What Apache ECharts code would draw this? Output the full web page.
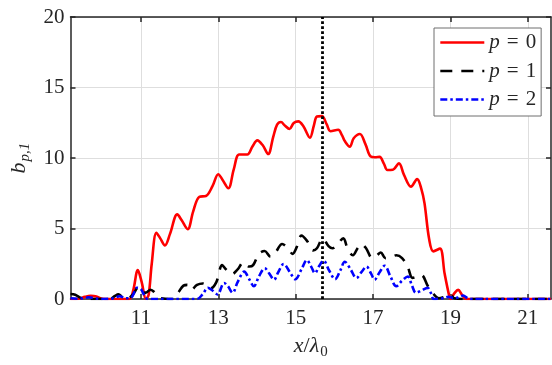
<!DOCTYPE html>
<html>
<head>
<meta charset="utf-8">
<style>
  html, body { margin: 0; padding: 0; background: #fff; }
  #chart { width: 552px; height: 365px; }
</style>
<script src="https://cdn.jsdelivr.net/npm/echarts@6/dist/echarts.min.js"></script>
</head>
<body>
<div id="chart"></div>
<script>
// x positions, one list per curve
const xRange = [9.18, 21.6]
const xTicks = [11, 13, 15, 17, 19, 21]
const markerX = 15.7

const p0X = [9.18, 9.4, 9.55, 9.7, 9.85, 10.0, 10.2, 10.7, 10.8, 10.92, 11.02, 11.13, 11.2, 11.28, 11.4, 11.5, 11.62, 11.75, 11.94, 12.05, 12.21, 12.35, 12.51, 12.68, 12.85, 13.0, 13.1, 13.26, 13.4, 13.54, 13.75, 13.88, 14.01, 14.15, 14.29, 14.42, 14.52, 14.62, 14.72, 14.84, 14.95, 15.07, 15.2, 15.37, 15.47, 15.55, 15.68, 15.8, 15.9, 16.1, 16.2, 16.27, 16.4, 16.5, 16.66, 16.8, 16.94, 17.05, 17.17, 17.28, 17.37, 17.51, 17.67, 17.8, 17.98, 18.14, 18.25, 18.33, 18.45, 18.56, 18.73, 18.85, 18.96, 19.0, 19.1, 19.2, 19.3, 19.4, 21.6]
const p0Y = [0, 0.02, 0.15, 0.22, 0.18, 0.02, 0, 0, 0.6, 2.05, 1.2, 0, 0.3, 2.5, 4.7, 4.3, 3.8, 4.6, 6.0, 5.6, 4.95, 6.2, 7.25, 7.3, 8.0, 8.85, 8.5, 7.85, 9.2, 10.25, 10.25, 10.8, 11.25, 10.9, 10.28, 11.5, 12.36, 12.55, 12.3, 12.06, 12.48, 12.6, 12.25, 11.44, 12.3, 12.94, 12.97, 12.4, 11.9, 12.0, 11.6, 11.2, 10.8, 11.4, 11.7, 11.0, 10.1, 10.05, 10.08, 9.6, 9.15, 9.17, 9.62, 8.8, 7.97, 8.5, 7.8, 6.8, 4.26, 3.38, 3.57, 1.8, 0.33, 0, 0.4, 0.65, 0.3, 0, 0]

const p1X = [9.18, 9.3, 9.45, 9.6, 10.2, 10.32, 10.42, 10.52, 10.65, 10.8, 10.93, 11.05, 11.12, 11.25, 11.38, 11.52, 11.8, 11.95, 12.1, 12.2, 12.3, 12.45, 12.6, 12.8, 12.95, 13.1, 13.2, 13.35, 13.5, 13.65, 13.8, 13.9, 14.05, 14.2, 14.35, 14.48, 14.65, 14.8, 14.92, 15.03, 15.15, 15.3, 15.45, 15.55, 15.7, 15.85, 15.95, 16.08, 16.23, 16.35, 16.48, 16.6, 16.7, 16.82, 16.98, 17.1, 17.2, 17.32, 17.45, 17.6, 17.75, 17.9, 18.02, 18.15, 18.25, 18.42, 18.55, 18.7, 18.85, 19.0, 19.1, 19.3, 21.6]
const p1Y = [0.35, 0.3, 0.08, 0, 0, 0.2, 0.33, 0.15, 0.02, 0.35, 0.82, 0.5, 0.45, 0.66, 0.4, 0.05, 0, 0.4, 0.95, 1.0, 0.65, 1.0, 1.1, 0.75, 1.2, 2.4, 2.1, 1.75, 2.1, 2.6, 2.3, 2.4, 3.2, 3.4, 3.0, 3.3, 3.9, 3.6, 3.2, 3.7, 4.5, 4.1, 3.45, 3.6, 4.3, 3.75, 3.6, 3.9, 4.3, 3.5, 3.1, 3.6, 3.9, 3.6, 2.9, 3.1, 3.3, 2.9, 2.95, 3.1, 2.9, 2.25, 1.5, 1.6, 1.7, 0.9, 0.4, 0.05, 0.15, 0.3, 0.05, 0, 0]

const p2X = [9.18, 9.35, 9.5, 9.65, 9.8, 10.0, 10.3, 10.45, 10.6, 10.75, 10.9, 11.0, 11.1, 11.18, 12.45, 12.6, 12.73, 12.85, 12.98, 13.15, 13.25, 13.37, 13.5, 13.67, 13.8, 13.92, 14.05, 14.2, 14.32, 14.44, 14.55, 14.69, 14.85, 14.99, 15.15, 15.29, 15.4, 15.5, 15.6, 15.72, 15.87, 16.02, 16.15, 16.27, 16.42, 16.57, 16.7, 16.83, 16.95, 17.04, 17.17, 17.3, 17.45, 17.6, 17.75, 17.9, 18.0, 18.11, 18.25, 18.41, 18.5, 18.57, 18.8, 18.95, 19.1, 19.2, 19.33, 19.45, 19.55, 21.6]
const p2Y = [0.05, 0.02, 0.05, 0.12, 0.05, 0, 0.05, 0.2, 0.05, 0.1, 0.8, 0.7, 0.2, 0, 0, 0.35, 0.8, 0.6, 0.33, 1.14, 0.9, 0.44, 1.2, 1.94, 1.4, 0.9, 1.6, 2.18, 1.8, 1.37, 1.9, 2.48, 1.9, 1.4, 2.1, 2.76, 2.3, 1.83, 2.3, 2.72, 2.0, 1.4, 2.0, 2.64, 2.1, 1.49, 1.9, 2.3, 1.8, 1.37, 1.9, 2.36, 1.6, 0.9, 1.3, 1.6, 1.0, 0.44, 0.6, 0.79, 0.4, 0, 0.05, 0.15, 0.05, 0.1, 0.25, 0.05, 0, 0]

const axisColor = '#262626'
const serif = 'Liberation Serif'

function pairs(xs, ys) {
  return xs.map((x, i) => [x, ys[i]])
}

const chart = echarts.init(document.getElementById('chart'))

const tickStyle = { inside: true, length: 5, lineStyle: { color: axisColor, width: 1.5 } }

let option = {
  animation: false,
  grid: { left: 67, right: 1, top: 17, bottom: 60 },
  legend: {
    orient: 'vertical',
    left: 434,
    top: 28,
    padding: [4, 5, 6, 5],
    itemGap: 7.5,
    itemWidth: 44,
    itemHeight: 20,
    backgroundColor: '#fff',
    borderColor: '#6e6e6e',
    borderWidth: 1,
    borderRadius: 0,
    // only the line sample, no marker dot
    itemStyle: { opacity: 0 },
    lineStyle: { width: 2.6 },
    data: ['p = 0', 'p = 1', 'p = 2'],
    formatter: function (name) {
      return '{i|p}{e|=}{n|' + name.split('=')[1].trim() + '}'
    },
    textStyle: {
      fontFamily: serif,
      fontSize: 21,
      color: axisColor,
      rich: {
        i: { fontFamily: serif, fontStyle: 'italic', fontSize: 21, color: axisColor },
        e: { fontFamily: serif, fontSize: 21, color: axisColor, padding: [0, 7, 0, 7] },
        n: { fontFamily: serif, fontSize: 21, color: axisColor }
      }
    }
  },
  xAxis: [{
    type: 'value',
    min: xRange[0],
    max: xRange[1],
    name: '{i|x}{n|/}{i|λ}{s|0}',
    nameLocation: 'middle',
    nameGap: 34,
    nameTextStyle: {
      rich: {
        i: { fontFamily: serif, fontStyle: 'italic', fontSize: 22, color: axisColor },
        n: { fontFamily: serif, fontSize: 22, color: axisColor },
        s: { fontFamily: serif, fontSize: 15, color: axisColor, padding: [12, 0, 0, 1] }
      }
    },
    axisLine: { onZero: false, lineStyle: { color: axisColor, width: 1.5 } },
    axisTick: Object.assign({ customValues: xTicks }, tickStyle),
    axisLabel: {
      customValues: xTicks,
      fontFamily: serif,
      fontSize: 21,
      color: axisColor,
      margin: 9
    },
    splitLine: { show: true, lineStyle: { color: '#dedede', width: 1 } }
  }, {
    type: 'value',
    position: 'top',
    min: xRange[0],
    max: xRange[1],
    axisLine: { onZero: false, lineStyle: { color: axisColor, width: 1.5 } },
    axisTick: Object.assign({ customValues: xTicks }, tickStyle),
    axisLabel: { show: false },
    splitLine: { show: false }
  }],
  yAxis: [{
    type: 'value',
    min: 0,
    max: 20,
    interval: 5,
    name: '{b|b}{s|p,1}',
    nameLocation: 'middle',
    nameGap: 38,
    nameRotate: 90,
    nameTextStyle: {
      rich: {
        b: { fontFamily: serif, fontStyle: 'italic', fontSize: 22, color: axisColor },
        s: { fontFamily: serif, fontStyle: 'italic', fontSize: 15, color: axisColor, padding: [12, 0, 0, 1] }
      }
    },
    axisLine: { show: true, lineStyle: { color: axisColor, width: 1.5 } },
    axisTick: tickStyle,
    axisLabel: { fontFamily: serif, fontSize: 21, color: axisColor, margin: 6 },
    splitLine: { show: true, lineStyle: { color: '#dedede', width: 1 } }
  }, {
    type: 'value',
    position: 'right',
    min: 0,
    max: 20,
    interval: 5,
    axisLine: { show: true, lineStyle: { color: axisColor, width: 1.5 } },
    axisTick: tickStyle,
    axisLabel: { show: false },
    splitLine: { show: false }
  }],
  series: [
    {
      name: 'p = 0',
      type: 'line',
      symbol: 'none',
      smooth: 0.35,
      lineStyle: { color: '#ff0000', width: 2.6, type: 'solid' },
      itemStyle: { color: '#ff0000' },
      data: pairs(p0X, p0Y),
      z: 3
    },
    {
      name: 'p = 1',
      type: 'line',
      symbol: 'none',
      smooth: 0.35,
      lineStyle: { color: '#000000', width: 2.6, type: [12, 9] },
      itemStyle: { color: '#000000' },
      data: pairs(p1X, p1Y),
      z: 4
    },
    {
      name: 'p = 2',
      type: 'line',
      symbol: 'none',
      smooth: 0.35,
      lineStyle: { color: '#0000ff', width: 2.6, type: [7, 3, 2.5, 3] },
      itemStyle: { color: '#0000ff' },
      data: pairs(p2X, p2Y),
      z: 5,
      markLine: {
        silent: true,
        symbol: 'none',
        label: { show: false },
        lineStyle: { color: '#000000', width: 2.8, type: [2.8, 2.2] },
        data: [{ xAxis: markerX }]
      }
    }
  ]
}

chart.setOption(option)
</script>
</body>
</html>
